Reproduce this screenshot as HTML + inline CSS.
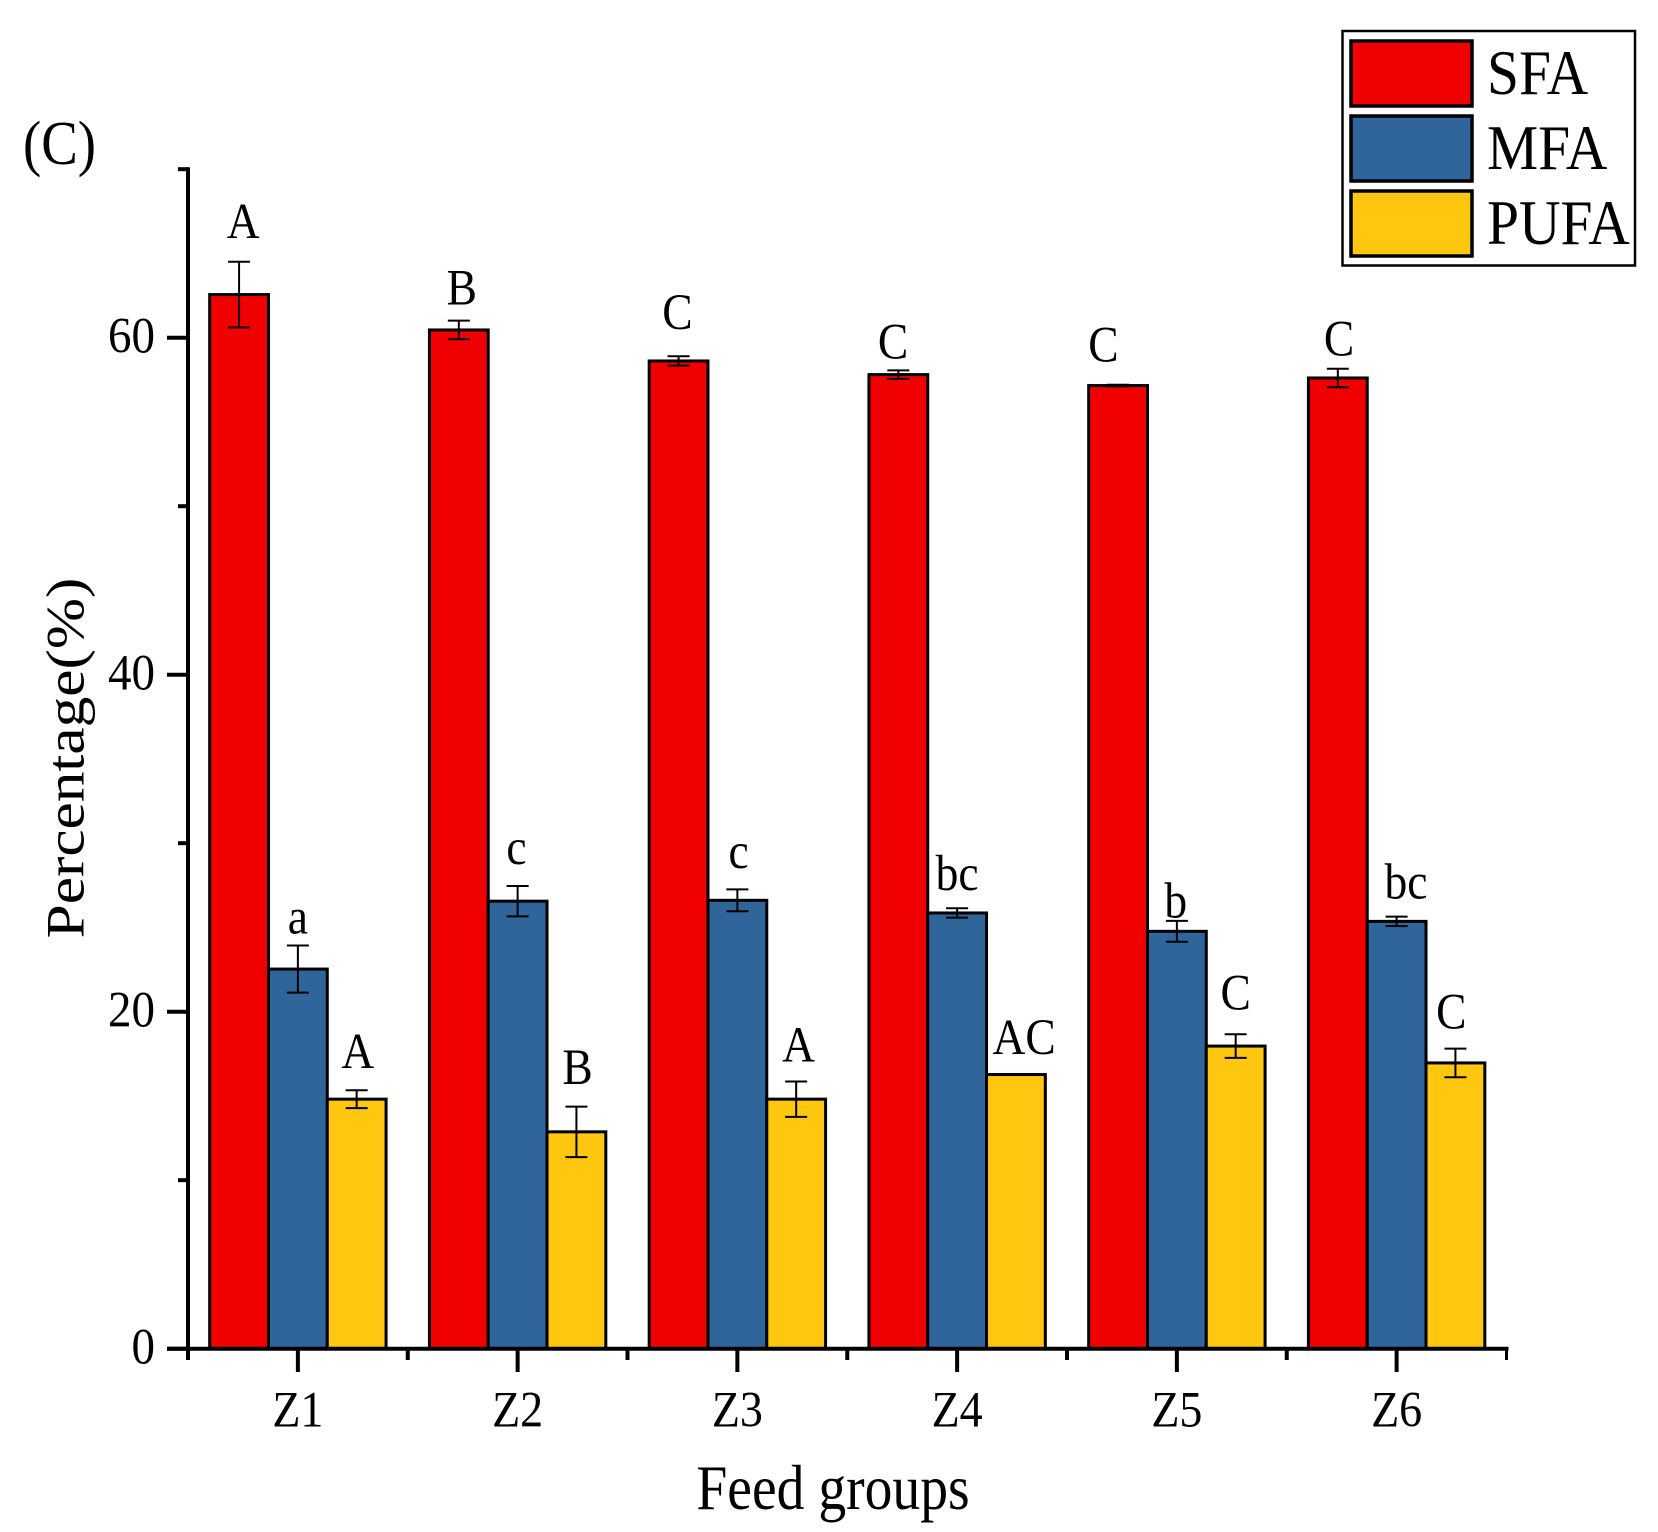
<!DOCTYPE html>
<html lang="en">
<head>
<meta charset="utf-8">
<title>Fatty acid percentage by feed group</title>
<style>
html,body{margin:0;padding:0;background:#fff;}
svg{display:block;}
text{font-family:"Liberation Serif",serif;fill:#000;}
</style>
</head>
<body>
<svg id="chart" xmlns="http://www.w3.org/2000/svg" width="1658" height="1532" viewBox="0 0 1658 1532"></svg>
<script>
const categories = ['Z1','Z2','Z3','Z4','Z5','Z6'];
const seriesNames = ['SFA','MFA','PUFA'];
const sfaValues = [62.56,60.46,58.62,57.81,57.16,57.61];
const mfaValues = [22.53,26.56,26.61,25.86,24.77,25.36];
const pufaValues = [14.81,12.87,14.81,16.27,17.96,16.96];
const sfaErrors = [1.95,0.55,0.28,0.25,0.05,0.55];
const mfaErrors = [1.4,0.9,0.65,0.28,0.62,0.28];
const pufaErrors = [0.53,1.5,1.05,0,0.7,0.85];
const sfaLetters = ['A','B','C','C','C','C'];
const mfaLetters = ['a','c','c','bc','b','bc'];
const pufaLetters = ['A','B','A','AC','C','C'];
const sfaLetterLevels = [65.93,61.97,60.53,58.78,58.6,58.95];
const mfaLetterLevels = [24.63,28.77,28.53,27.21,25.58,26.71];
const pufaLetterLevels = [16.67,15.72,17.05,17.49,20.12,18.99];
const sfaLetterShift = [0.07,0.05,-0.02,-0.09,-0.25,0.02];
const mfaLetterShift = [0,-0.02,0.02,0,-0.02,0.16];
const pufaLetterShift = [0.02,0.02,0.04,0.14,0,-0.07];
const yTickLabels = [0,20,40,60];
const yMinorTicks = [10,30,50,70];

const NS = 'http://www.w3.org/2000/svg';
const svg = document.getElementById('chart');
const fills = ['#f00000','#30659c','#ffc70f'];
const X0 = 188, STEP = 219.75, BAR = 58.8;
const Y0 = 1348.7, UNIT = 16.85, YMAX = 70;

function xCenter(i){ return X0 + STEP * (i + 0.5); }
function barX(i, s){ return xCenter(i) + (s - 1.5) * BAR; }
function yPos(v){ return Y0 - v * UNIT; }

function line(x1, y1, x2, y2, w, name){
  const el = document.createElementNS(NS, 'line');
  el.setAttribute('x1', x1);
  el.setAttribute('y1', y1);
  el.setAttribute('x2', x2);
  el.setAttribute('y2', y2);
  el.setAttribute('stroke', '#000');
  el.setAttribute('stroke-width', w);
  
  
  svg.appendChild(el);
  return el;
}
function rect(x, y, w, h, fill, sw, name){
  const el = document.createElementNS(NS, 'rect');
  el.setAttribute('x', x);
  el.setAttribute('y', y);
  el.setAttribute('width', w);
  el.setAttribute('height', h);
  el.setAttribute('fill', fill);
  el.setAttribute('stroke', '#000');
  el.setAttribute('stroke-width', sw);
  
  
  svg.appendChild(el);
  return el;
}
function label(str, x, y, size, stretch, anchor, name, rotated){
  const el = document.createElementNS(NS, 'text');
  el.textContent = str;
  el.setAttribute('font-size', size);
  el.setAttribute('text-anchor', anchor);
  el.setAttribute('transform', 'translate(' + x + ',' + y + ') scale(1,' + stretch + ')' + (rotated ? ' rotate(-90)' : ''));
  
  
  svg.appendChild(el);
  return el;
}

// bars
const allValues = [sfaValues, mfaValues, pufaValues];
const allErrors = [sfaErrors, mfaErrors, pufaErrors];
const allLetters = [sfaLetters, mfaLetters, pufaLetters];
const allLevels = [sfaLetterLevels, mfaLetterLevels, pufaLetterLevels];
const allShifts = [sfaLetterShift, mfaLetterShift, pufaLetterShift];

categories.forEach(function(cat, i){
  seriesNames.forEach(function(ser, s){
    const v = allValues[s][i];
    rect(barX(i, s), yPos(v), BAR, Y0 - yPos(v), fills[s], 3, 'bar-' + ser.toLowerCase() + '-' + cat.toLowerCase());
  });
});

// error bars
categories.forEach(function(cat, i){
  seriesNames.forEach(function(ser, s){
    const v = allValues[s][i];
    const e = allErrors[s][i];
    if (e <= 0) return;
    const cx = barX(i, s) + BAR / 2;
    const base = 'error-bar-' + ser.toLowerCase() + '-' + cat.toLowerCase();
    line(cx, yPos(v + e), cx, yPos(v - e), 2, base);
    line(cx - 11, yPos(v + e), cx + 11, yPos(v + e), 2, base + '-cap-top');
    line(cx - 11, yPos(v - e), cx + 11, yPos(v - e), 2, base + '-cap-bottom');
  });
});

// significance letters
categories.forEach(function(cat, i){
  seriesNames.forEach(function(ser, s){
    const cx = barX(i, s) + BAR / 2 + allShifts[s][i] * BAR;
    label(allLetters[s][i], cx, yPos(allLevels[s][i]), 45.5, 1.12, 'middle', 'significance-letter-' + ser.toLowerCase() + '-' + cat.toLowerCase());
  });
});

// axes
line(X0, yPos(YMAX) - 2, X0, Y0 + 11.3, 4, 'y-axis-line');
line(167, Y0, X0 + STEP * 6 + 2, Y0, 4, 'x-axis-line');

yTickLabels.forEach(function(t){
  line(167, yPos(t), X0, yPos(t), 4, 'y-tick-' + t);
  label(String(t), 155, yPos(t) + 15, 47, 1.086, 'end', 'y-tick-label-' + t);
});
yMinorTicks.forEach(function(t){
  line(178, yPos(t), X0, yPos(t), 4, 'y-minor-tick-' + t);
});
categories.forEach(function(cat, i){
  line(xCenter(i), Y0, xCenter(i), Y0 + 23.3, 4, 'x-tick-' + cat.toLowerCase());
  label(cat, xCenter(i), 1426.7, 46, 1.11, 'middle', 'x-tick-label-' + cat.toLowerCase());
});
for (let i = 0; i <= categories.length; i++){
  line(X0 + STEP * i, Y0, X0 + STEP * i, 1360, i === categories.length ? 3 : 4, 'x-minor-tick-' + i);
}

// titles
label('Feed groups', 833, 1509, 55.6, 1.147, 'middle', 'x-axis-title');
label('Percentage(%)', 83.5, 758, 54, 1.135, 'middle', 'y-axis-title', true);
label('(C)', 23, 164, 54.8, 1.143, 'start', 'panel-label');

// legend
const legendBox = rect(1342.5, 31, 292.5, 234.5, '#fff', 2.5, 'legend-box');
seriesNames.forEach(function(ser, s){
  const top = 41 + s * 75;
  rect(1351, top, 121, 65, fills[s], 3.5, 'legend-swatch-' + ser.toLowerCase());
  label(ser, 1487, 94 + s * 75, 57.5, 1.10, 'start', 'legend-label-' + ser.toLowerCase());
});
</script>
</body>
</html>
